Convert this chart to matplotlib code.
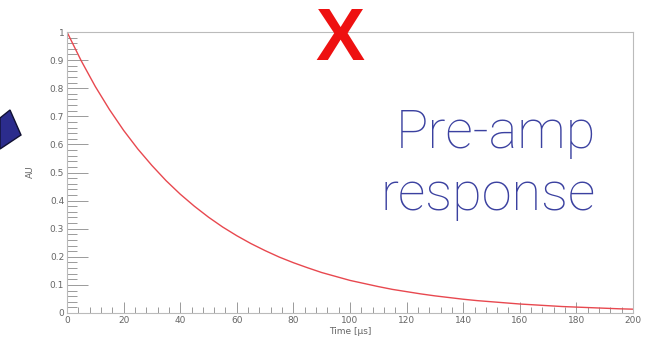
import numpy as np
import matplotlib
matplotlib.use("Agg")
import matplotlib.pyplot as plt
from matplotlib.patches import Polygon
from matplotlib.ticker import MultipleLocator

# pre-amp response, every 5 us
time_us = [0, 5, 10, 15, 20, 25, 30, 35, 40, 45, 50, 55, 60, 65, 70, 75, 80,
           85, 90, 95, 100, 105, 110, 115, 120, 125, 130, 135, 140, 145, 150,
           155, 160, 165, 170, 175, 180, 185, 190, 195, 200]
response = [1.0, 0.898, 0.806, 0.724, 0.650, 0.584, 0.525, 0.471, 0.423, 0.380,
            0.341, 0.306, 0.275, 0.247, 0.222, 0.199, 0.179, 0.161, 0.144, 0.130,
            0.116, 0.105, 0.094, 0.084, 0.076, 0.068, 0.061, 0.055, 0.049, 0.044,
            0.040, 0.036, 0.032, 0.029, 0.026, 0.023, 0.021, 0.019, 0.017, 0.015,
            0.0136]

W, H = 652, 341
fig = plt.figure(figsize=(W / 100, H / 100), dpi=100)
ax = fig.add_axes([67 / W, 1 - 313 / H, (633 - 67) / W, (313 - 32) / H])

ax.plot(time_us, response, color="#e8484f", lw=1.0)
ax.set_xlim(0, 200)
ax.set_ylim(0, 1)

grey = "#9a9a9a"
for s in ax.spines.values():
    s.set_color("#bbbbbb")
    s.set_linewidth(0.8)

ax.xaxis.set_major_locator(MultipleLocator(20))
ax.xaxis.set_minor_locator(MultipleLocator(4))
ax.yaxis.set_major_locator(MultipleLocator(0.1))
ax.yaxis.set_minor_locator(MultipleLocator(0.02))
ax.tick_params(axis="both", which="both", direction="in", color=grey,
               labelsize=6.5, labelcolor="#666666", width=0.7)
ax.tick_params(axis="x", which="major", length=8, pad=2)
ax.tick_params(axis="x", which="minor", length=4)
ax.tick_params(axis="y", which="major", length=15, pad=2)
ax.tick_params(axis="y", which="minor", length=7)
ax.set_xticks(range(0, 201, 20))
ax.set_xticklabels([str(v) for v in range(0, 201, 20)])
ax.set_yticks(np.arange(0, 1.01, 0.1))
ax.set_yticklabels(["0", "0.1", "0.2", "0.3", "0.4", "0.5", "0.6", "0.7",
                    "0.8", "0.9", "1"])

fig.text(30 / W, 1 - 172 / H, "AU", rotation=90, fontsize=6.5,
         color="#666666", ha="center", va="center")
fig.text(350 / W, 1 - 331 / H, "Time [μs]", fontsize=6.5,
         color="#666666", ha="center", va="center")

fig.text(596 / W, 1 - 133 / H, "Pre-amp", fontsize=39, color="#3b41a0",
         family="Roboto", weight="light", ha="right", va="center")
fig.text(596 / W, 1 - 195 / H, "response", fontsize=39, color="#3b41a0",
         family="Roboto", weight="light", ha="right", va="center")

fig.text(340 / W, 1 - 40 / H, "X", fontsize=53, color="#ee1111",
         family="Liberation Sans", weight="bold", ha="center", va="center")

pts = [(0, 118), (10, 110), (21, 135), (0, 149)]
fig.patches.append(Polygon([(x / W, 1 - y / H) for x, y in pts], closed=True,
                           transform=fig.transFigure, facecolor="#2b2c8c",
                           edgecolor="#111133", lw=1.0))

fig.savefig("out.png", dpi=100)
